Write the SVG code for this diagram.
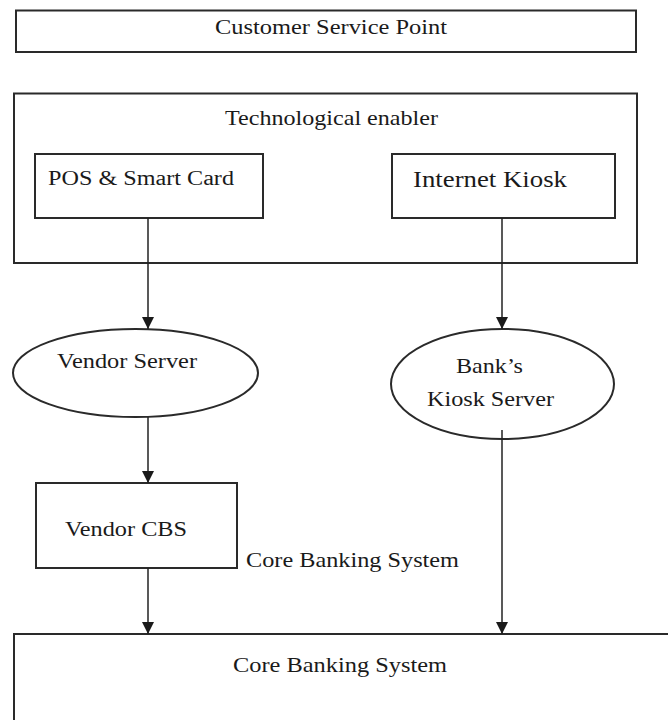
<svg xmlns="http://www.w3.org/2000/svg" width="668" height="720" viewBox="0 0 668 720">
<style>
  .box { fill: #ffffff; stroke: #2a2a2a; stroke-width: 2; }
  .lbl { font-family: "Liberation Serif", "Times New Roman", serif; fill: #1a1a1a; }
  .conn { stroke: #222222; stroke-width: 1.5; fill: none; marker-end: url(#arrow); }
</style>
<defs>
  <marker id="arrow" viewBox="0 0 10 10" refX="10" refY="5" markerUnits="userSpaceOnUse" markerWidth="13" markerHeight="12" orient="auto">
    <path d="M0,0 L10,5 L0,10 z" fill="#1a1a1a"/>
  </marker>
</defs>
<rect width="668" height="720" fill="#ffffff"/>

<g id="customer-service-point">
  <rect class="box" x="16" y="10.5" width="620" height="41.5"/>
  <text class="lbl" x="215" y="34" font-size="21" textLength="232" lengthAdjust="spacingAndGlyphs">Customer Service Point</text>
</g>

<g id="technological-enabler">
  <rect class="box" x="14" y="93.5" width="623" height="169.5"/>
  <text class="lbl" x="225" y="125" font-size="21" textLength="213" lengthAdjust="spacingAndGlyphs">Technological enabler</text>
</g>

<g id="pos-smart-card">
  <rect class="box" x="35" y="154" width="228" height="64"/>
  <text class="lbl" x="48" y="185" font-size="20" textLength="186" lengthAdjust="spacingAndGlyphs">POS &amp; Smart Card</text>
</g>

<g id="internet-kiosk">
  <rect class="box" x="392" y="154" width="223" height="64"/>
  <text class="lbl" x="413" y="187" font-size="23" textLength="154" lengthAdjust="spacingAndGlyphs">Internet Kiosk</text>
</g>

<g id="vendor-server">
  <ellipse class="box" cx="135.5" cy="373" rx="122.5" ry="44"/>
  <text class="lbl" x="57" y="368" font-size="20" textLength="140" lengthAdjust="spacingAndGlyphs">Vendor Server</text>
</g>

<g id="banks-kiosk-server">
  <ellipse class="box" cx="502.5" cy="384" rx="111.5" ry="55"/>
  <text class="lbl" x="456" y="373" font-size="21" textLength="67" lengthAdjust="spacingAndGlyphs">Bank’s</text>
  <text class="lbl" x="427" y="406" font-size="21" textLength="127" lengthAdjust="spacingAndGlyphs">Kiosk Server</text>
</g>

<g id="vendor-cbs">
  <rect class="box" x="36" y="483" width="201" height="85"/>
  <text class="lbl" x="65" y="536" font-size="21" textLength="122" lengthAdjust="spacingAndGlyphs">Vendor CBS</text>
</g>

<g id="cbs-label">
  <text class="lbl" x="246" y="567" font-size="21" textLength="213" lengthAdjust="spacingAndGlyphs">Core Banking System</text>
</g>

<g id="core-banking-system">
  <rect class="box" x="14" y="634" width="680" height="110"/>
  <text class="lbl" x="233" y="672" font-size="21" textLength="214" lengthAdjust="spacingAndGlyphs">Core Banking System</text>
</g>

<g id="connectors">
  <line class="conn" x1="148" y1="218" x2="148" y2="329"/>
  <line class="conn" x1="502" y1="218" x2="502" y2="329"/>
  <line class="conn" x1="148" y1="417" x2="148" y2="483"/>
  <line class="conn" x1="148" y1="568" x2="148" y2="634"/>
  <line class="conn" x1="502" y1="430" x2="502" y2="634"/>
</g>
</svg>
